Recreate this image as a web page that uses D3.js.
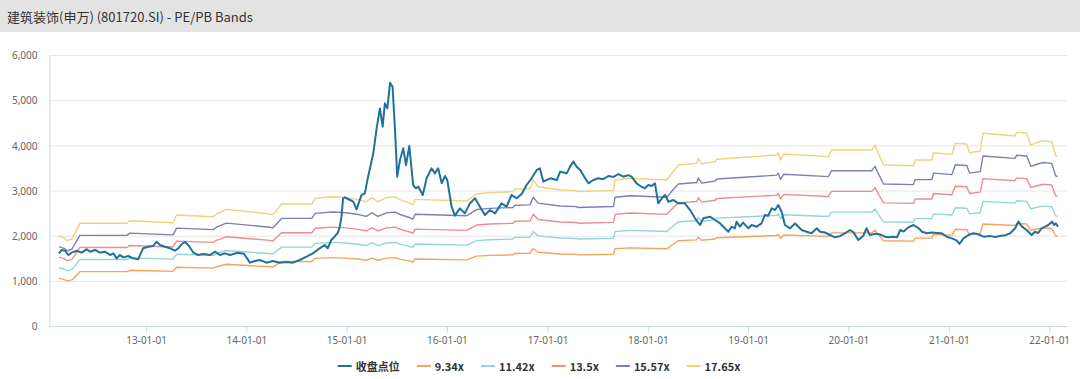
<!DOCTYPE html>
<html>
<head>
<meta charset="utf-8">
<script src="https://cdn.jsdelivr.net/npm/d3@7"></script>
<style>
  body { margin: 0; background: #fff; }
  svg { display: block; font-family: "Noto Sans CJK SC", "Noto Sans", sans-serif; }
</style>
</head>
<body>
<svg id="chart" width="1080" height="379"></svg>
<script>

var title = '建筑装饰(申万) (801720.SI) - PE/PB Bands';
var seriesNames = ['收盘点位', '9.34x', '11.42x', '13.5x', '15.57x', '17.65x'];
var multiples = [9.34, 11.42, 13.5, 15.57, 17.65];
var yTicks = [0, 1000, 2000, 3000, 4000, 5000, 6000];

// index close
var closeData = [
    ['2012-02-19', 1609], ['2012-02-28', 1683], ['2012-03-12', 1667], ['2012-03-24', 1572],
    ['2012-04-05', 1623], ['2012-04-23', 1667], ['2012-05-11', 1623], ['2012-05-30', 1698],
    ['2012-06-11', 1645], ['2012-06-29', 1683], ['2012-07-17', 1623], ['2012-08-04', 1645],
    ['2012-08-23', 1572], ['2012-09-04', 1609], ['2012-09-16', 1498], ['2012-09-28', 1572],
    ['2012-10-10', 1520], ['2012-10-28', 1550], ['2012-11-15', 1498], ['2012-12-03', 1476],
    ['2012-12-21', 1720], ['2013-01-09', 1756], ['2013-01-27', 1771], ['2013-02-08', 1866],
    ['2013-02-21', 1793], ['2013-03-11', 1756], ['2013-03-29', 1720], ['2013-04-16', 1667],
    ['2013-04-28', 1720], ['2013-05-11', 1815], ['2013-05-23', 1860], ['2013-06-08', 1756],
    ['2013-06-22', 1623], ['2013-07-10', 1572], ['2013-07-28', 1594], ['2013-08-22', 1572],
    ['2013-09-09', 1645], ['2013-09-27', 1572], ['2013-10-15', 1609], ['2013-11-02', 1572],
    ['2013-12-01', 1623], ['2013-12-23', 1600], ['2014-01-14', 1402], ['2014-02-01', 1440],
    ['2014-02-19', 1461], ['2014-03-15', 1402], ['2014-04-07', 1440], ['2014-05-03', 1402],
    ['2014-05-28', 1415], ['2014-06-19', 1402], ['2014-07-14', 1461], ['2014-08-08', 1535],
    ['2014-08-31', 1609], ['2014-09-25', 1720], ['2014-10-13', 1793], ['2014-10-24', 1720],
    ['2014-11-06', 1904], ['2014-11-18', 1977], ['2014-11-30', 2066], ['2014-12-07', 2199],
    ['2014-12-13', 2420], ['2014-12-19', 2827], ['2014-12-25', 2849], ['2015-01-13', 2790],
    ['2015-01-25', 2752], ['2015-02-06', 2583], ['2015-02-24', 2900], ['2015-03-08', 2937],
    ['2015-03-20', 3306], ['2015-04-08', 3823], ['2015-04-20', 4375], ['2015-05-02', 4818],
    ['2015-05-12', 4412], ['2015-05-20', 4930], ['2015-05-29', 4818], ['2015-06-08', 5386],
    ['2015-06-17', 5298], ['2015-06-26', 4339], ['2015-07-04', 3306], ['2015-07-14', 3675],
    ['2015-07-26', 3934], ['2015-08-05', 3565], ['2015-08-17', 3985], ['2015-08-31', 3122],
    ['2015-09-10', 3048], ['2015-09-19', 3084], ['2015-10-05', 2900], ['2015-10-19', 3270],
    ['2015-11-06', 3491], ['2015-11-18', 3380], ['2015-11-30', 3491], ['2015-12-13', 3159],
    ['2015-12-25', 3321], ['2016-01-02', 3232], ['2016-01-18', 2641], ['2016-01-30', 2443],
    ['2016-02-17', 2605], ['2016-03-06', 2494], ['2016-03-25', 2716], ['2016-04-12', 2827],
    ['2016-04-30', 2641], ['2016-05-18', 2457], ['2016-06-06', 2568], ['2016-06-24', 2494],
    ['2016-07-18', 2716], ['2016-08-05', 2641], ['2016-08-23', 2900], ['2016-09-11', 2827],
    ['2016-09-29', 2922], ['2016-10-17', 3122], ['2016-11-04', 3270], ['2016-11-23', 3454],
    ['2016-12-04', 3491], ['2016-12-17', 3195], ['2017-01-11', 3270], ['2017-02-04', 3232],
    ['2017-02-16', 3417], ['2017-03-12', 3380], ['2017-03-24', 3528], ['2017-04-05', 3639],
    ['2017-04-17', 3528], ['2017-04-30', 3454], ['2017-05-18', 3270], ['2017-05-30', 3159],
    ['2017-06-17', 3232], ['2017-07-05', 3270], ['2017-07-22', 3250], ['2017-08-11', 3321],
    ['2017-08-29', 3300], ['2017-09-16', 3365], ['2017-10-04', 3306], ['2017-10-22', 3340],
    ['2017-11-03', 3306], ['2017-11-21', 3159], ['2017-12-09', 3084], ['2017-12-21', 3048],
    ['2018-01-03', 3122], ['2018-01-15', 3100], ['2018-01-27', 3159], ['2018-02-08', 2716],
    ['2018-02-21', 2827], ['2018-03-05', 2900], ['2018-03-17', 2752], ['2018-04-04', 2790],
    ['2018-04-22', 2716], ['2018-05-16', 2716], ['2018-06-04', 2568], ['2018-06-22', 2384],
    ['2018-07-10', 2236], ['2018-07-22', 2384], ['2018-08-15', 2420], ['2018-09-03', 2347],
    ['2018-09-21', 2273], ['2018-10-21', 2088], ['2018-11-02', 2199], ['2018-11-14', 2163],
    ['2018-11-20', 2310], ['2018-12-02', 2199], ['2018-12-14', 2288], ['2019-01-02', 2163],
    ['2019-01-14', 2236], ['2019-02-01', 2199], ['2019-02-19', 2273], ['2019-03-03', 2457],
    ['2019-03-15', 2440], ['2019-03-28', 2605], ['2019-04-09', 2568], ['2019-04-21', 2679],
    ['2019-05-03', 2531], ['2019-05-15', 2236], ['2019-06-03', 2163], ['2019-06-21', 2273],
    ['2019-07-03', 2199], ['2019-07-15', 2125], ['2019-08-02', 2088], ['2019-08-20', 2052],
    ['2019-09-08', 2163], ['2019-09-20', 2088], ['2019-10-08', 2070], ['2019-10-26', 2015],
    ['2019-11-13', 1963], ['2019-12-01', 1990], ['2019-12-19', 2052], ['2020-01-07', 2125],
    ['2020-01-19', 2080], ['2020-02-06', 1904], ['2020-02-24', 1993], ['2020-03-07', 2163],
    ['2020-03-19', 2015], ['2020-04-07', 2040], ['2020-04-25', 2030], ['2020-05-13', 1977],
    ['2020-05-26', 1963], ['2020-06-12', 1975], ['2020-06-26', 1963], ['2020-07-08', 2125],
    ['2020-07-20', 2090], ['2020-08-07', 2184], ['2020-08-25', 2236], ['2020-09-13', 2163],
    ['2020-09-25', 2088], ['2020-10-13', 2052], ['2020-10-31', 2070], ['2020-11-18', 2060],
    ['2020-12-06', 2052], ['2020-12-24', 1977], ['2021-01-12', 1941], ['2021-01-30', 1889],
    ['2021-02-08', 1815], ['2021-02-23', 1941], ['2021-03-13', 2015], ['2021-03-31', 2052],
    ['2021-04-18', 2030], ['2021-05-07', 1977], ['2021-05-31', 1990], ['2021-06-18', 1970],
    ['2021-07-06', 1993], ['2021-07-24', 2010], ['2021-08-12', 2052], ['2021-08-30', 2163],
    ['2021-09-11', 2310], ['2021-09-23', 2206], ['2021-10-11', 2125], ['2021-10-29', 2015],
    ['2021-11-10', 2088], ['2021-11-22', 2060], ['2021-12-04', 2163], ['2021-12-17', 2199],
    ['2021-12-29', 2236], ['2022-01-11', 2310], ['2022-01-19', 2236], ['2022-01-25', 2273],
    ['2022-02-02', 2199]
];

// trailing earnings per index point (band = eps * multiple)
var epsData = [
    ['2012-02-19', 112.9], ['2012-03-08', 110.5], ['2012-03-20', 107.0], ['2012-04-06', 109.3],
    ['2012-05-05', 128.8], ['2012-10-23', 128.8], ['2012-11-03', 132.1], ['2013-04-09', 129.6],
    ['2013-04-22', 139.2], ['2013-09-02', 137.1], ['2013-09-14', 140.5], ['2013-10-20', 146.3],
    ['2014-03-27', 140.5], ['2014-04-07', 139.4], ['2014-05-09', 153.0], ['2014-08-27', 153.0],
    ['2014-09-08', 160.2], ['2014-11-12', 162.2], ['2014-12-29', 161.0], ['2015-02-18', 158.1],
    ['2015-03-14', 155.9], ['2015-04-03', 161.0], ['2015-04-25', 155.9], ['2015-05-26', 161.0],
    ['2015-06-26', 162.0], ['2015-07-14', 158.6], ['2015-08-20', 153.9], ['2015-08-30', 151.8],
    ['2015-09-07', 158.9], ['2016-03-13', 156.8], ['2016-04-18', 165.6], ['2016-06-06', 167.3],
    ['2016-08-28', 168.5], ['2016-09-04', 171.8], ['2016-10-29', 172.2], ['2016-11-10', 183.1],
    ['2016-11-28', 174.7], ['2017-02-16', 170.6], ['2017-04-17', 169.7], ['2017-04-21', 168.6],
    ['2017-08-29', 170.0], ['2017-09-04', 183.1], ['2017-10-28', 185.3], ['2018-03-11', 183.1],
    ['2018-03-29', 191.5], ['2018-04-22', 202.0], ['2018-06-28', 204.1], ['2018-07-04', 210.4],
    ['2018-07-16', 203.2], ['2018-09-03', 206.2], ['2018-09-09', 209.1], ['2019-04-15', 214.5],
    ['2019-04-21', 217.4], ['2019-04-29', 208.2], ['2019-05-11', 215.8], ['2019-10-20', 212.4],
    ['2019-11-01', 220.8], ['2020-03-26', 220.8], ['2020-04-07', 227.0], ['2020-04-19', 216.6],
    ['2020-05-08', 202.0], ['2020-08-25', 201.1], ['2020-08-31', 208.2], ['2020-10-31', 208.2],
    ['2020-11-06', 217.4], ['2021-01-12', 215.3], ['2021-01-24', 229.2], ['2021-03-07', 228.3],
    ['2021-03-17', 217.4], ['2021-04-25', 219.5], ['2021-05-05', 241.7], ['2021-08-29', 238.3],
    ['2021-09-05', 242.9], ['2021-10-11', 241.7], ['2021-10-26', 227.0], ['2021-11-17', 230.0],
    ['2021-12-11', 232.5], ['2022-01-10', 231.2], ['2022-01-25', 213.3], ['2022-02-01', 212.8]
];

var colors = ['#21729b', '#f7a35c', '#8fd8d5', '#f08c8c', '#7c80b4', '#efd27e'];

var parseDate = d3.timeParse('%Y-%m-%d');
var closeSeries = closeData.map(function (d) { return { date: parseDate(d[0]), value: d[1] }; });
var epsSeries = epsData.map(function (d) { return { date: parseDate(d[0]), eps: d[1] }; });

var svg = d3.select('#chart');

var plot = { left: 49, right: 1067, top: 55, bottom: 326 };

// title bar
svg.append('rect')
    .attr('x', 0).attr('y', 0)
    .attr('width', 1080).attr('height', 32)
    .attr('fill', '#e3e3e3');

svg.append('text')
    .attr('x', 7).attr('y', 16)
    .attr('dominant-baseline', 'central')
    .attr('font-size', 13)
    .attr('fill', '#333')
    .text(title);

var xScale = d3.scaleTime()
    .domain(d3.extent(closeSeries, function (d) { return d.date; }))
    .range([59, 1058]);

var yScale = d3.scaleLinear()
    .domain([0, 6000])
    .range([plot.bottom, plot.top]);

// grid
svg.append('g')
    .selectAll('line')
    .data(yTicks.filter(function (t) { return t > 0; }))
    .enter().append('line')
    .attr('x1', plot.left).attr('x2', plot.right)
    .attr('y1', function (d) { return yScale(d) + 0.5; })
    .attr('y2', function (d) { return yScale(d) + 0.5; })
    .attr('stroke', '#e6e6e6')
    .attr('stroke-width', 1);

// y axis
var yAxis = svg.append('g')
    .attr('transform', 'translate(' + (plot.left + 0.5) + ',0.5)')
    .call(d3.axisLeft(yScale).tickValues(yTicks).tickFormat(d3.format(',')).tickSize(0).tickPadding(12));
yAxis.select('.domain').attr('stroke', '#ccd6eb');
yAxis.selectAll('text')
    .attr('font-size', 10)
    .attr('fill', '#666')
    .attr('font-family', '"Noto Sans", sans-serif');

// x axis
var xAxis = svg.append('g')
    .attr('transform', 'translate(0,' + (plot.bottom + 0.5) + ')')
    .call(d3.axisBottom(xScale)
        .ticks(d3.timeYear.every(1))
        .tickFormat(d3.timeFormat('%y-%m-%d'))
        .tickSize(6)
        .tickSizeOuter(0)
        .tickPadding(4));
xAxis.select('.domain')
    .attr('d', 'M' + plot.left + ',0H' + plot.right)
    .attr('stroke', '#ccd6eb');
xAxis.selectAll('.tick line').attr('stroke', '#ccd6eb');
xAxis.selectAll('text')
    .attr('font-size', 10)
    .attr('fill', '#666')
    .attr('font-family', '"Noto Sans", sans-serif');

// bands
var bandLine = function (m) {
    return d3.line()
        .x(function (d) { return xScale(d.date); })
        .y(function (d) { return yScale(d.eps * m); });
};

var bands = svg.append('g').attr('class', 'bands');
multiples.forEach(function (m, i) {
    bands.append('path')
        .datum(epsSeries)
        .attr('d', bandLine(m))
        .attr('fill', 'none')
        .attr('stroke', colors[i + 1])
        .attr('stroke-width', 1.4)
        .attr('stroke-linejoin', 'round');
});

// close line
var closeLine = d3.line()
    .x(function (d) { return xScale(d.date); })
    .y(function (d) { return yScale(d.value); });

svg.append('path')
    .datum(closeSeries)
    .attr('d', closeLine)
    .attr('fill', 'none')
    .attr('stroke', colors[0])
    .attr('stroke-width', 2)
    .attr('stroke-linejoin', 'round');

// legend
var legend = svg.append('g').attr('class', 'legend');
var items = legend.selectAll('g')
    .data(seriesNames)
    .enter().append('g');

items.append('line')
    .attr('x1', 0).attr('x2', 14)
    .attr('y1', 0).attr('y2', 0)
    .attr('stroke', function (d, i) { return colors[i]; })
    .attr('stroke-width', 2);

items.append('text')
    .attr('x', 18).attr('y', 0)
    .attr('dominant-baseline', 'central')
    .attr('font-size', 11)
    .attr('font-weight', 'bold')
    .attr('fill', '#333')
    .text(function (d) { return d; });

var widths = [];
items.each(function () {
    widths.push(18 + this.querySelector('text').getComputedTextLength());
});
var gap = 17;
var total = d3.sum(widths) + gap * (widths.length - 1);
var cursor = 539 - total / 2;
items.attr('transform', function (d, i) {
    var x = cursor;
    cursor += widths[i] + gap;
    return 'translate(' + x + ',366)';
});

</script>
</body>
</html>
